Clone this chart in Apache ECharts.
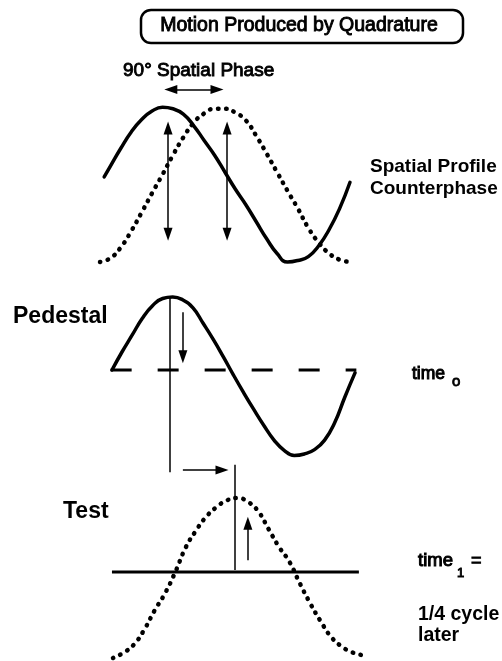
<!DOCTYPE html>
<html>
<head>
<meta charset="utf-8">
<script src="https://cdn.jsdelivr.net/npm/echarts@6/dist/echarts.min.js"></script>
<style>html,body{margin:0;padding:0;background:#fff}#c{width:502px;height:661px}</style>
</head>
<body>
<div id="c"></div>
<script>
// Phase positions (degrees) at which values were read
const phaseDeg = [0, 15, 30, 45, 60, 75, 90, 105, 120, 135, 150, 165, 180,
                  195, 210, 225, 240, 255, 270, 285, 300, 315, 330, 345, 360];
const spatialSolidPhase = [6, 15, 30, 45, 60, 75, 90, 105, 120, 135, 150, 165, 180,
                           195, 210, 225, 240, 255, 270, 285, 300, 315, 330, 345, 360];

// Top panel: spatial profile, counterphase (two gratings 90 deg apart)
const spatialSolid = [0.10, 0.24, 0.47, 0.68, 0.84, 0.95, 1.00, 0.98, 0.91, 0.76, 0.57, 0.38, 0.16,
                      -0.06, -0.26, -0.48, -0.70, -0.89, -1.00, -0.98, -0.93, -0.79, -0.58, -0.31, 0.03];
const spatialDotted = [-1.00, -0.95, -0.81, -0.60, -0.36, -0.11, 0.13, 0.38, 0.61, 0.80, 0.92, 0.98, 0.98,
                       0.93, 0.83, 0.63, 0.40, 0.16, -0.08, -0.31, -0.56, -0.75, -0.89, -0.97, -1.00];

// Middle panel: pedestal at time 0
const pedestal = [0.00, 0.25, 0.48, 0.71, 0.88, 0.98, 1.00, 0.96, 0.85, 0.64, 0.42, 0.18, -0.07,
                  -0.31, -0.54, -0.76, -0.96, -1.10, -1.17, -1.15, -1.09, -0.96, -0.72, -0.37, -0.04];
const pedestalBaseline = [[-2, 0], [362, 0]];

// Bottom panel: test at time 1 (1/4 cycle later)
const test = [-1.16, -1.09, -0.98, -0.78, -0.52, -0.29, 0.00, 0.33, 0.56, 0.75, 0.88, 0.97, 1.00,
              0.95, 0.82, 0.58, 0.34, 0.14, -0.15, -0.42, -0.66, -0.87, -1.00, -1.08, -1.12];
const testBaseline = [[-1.5, 0], [355.5, 0]];

// Annotation arrows (in each panel's data units)
const phaseArrow = [[102, 1.23], [168.5, 1.23]];
const spatialArrows = [
  [[98, 0.73], [98, -0.64]],
  [[183, 0.73], [183, -0.64]]
];
const pedestalGuide = [[86, 1.0], [86, -1.40]];
const pedestalArrow = [[105, 0.79], [105, 0.18]];
const shiftArrow = [[105, -1.37], [163, -1.37]];
const testGuide = [[176, 1.45], [176, 0.03]];
const testArrow = [[195, 0.16], [195, 0.66]];

const zip = (xs, ys) => xs.map((x, i) => [x, ys[i]]);
const BLACK = '#000';
const FONT = '"Liberation Sans", Arial, sans-serif';

const hiddenAxis = (idx, min, max) => ({
  type: 'value', gridIndex: idx, min: min, max: max,
  show: false, splitLine: {show: false}
});

function markLines(list, sym, size, width) {
  return {
    silent: true,
    animation: false,
    symbol: sym,
    symbolSize: size,
    label: {show: false},
    emphasis: {disabled: true},
    lineStyle: {color: BLACK, width: width, type: 'solid'},
    data: list.map(p => [{coord: p[0].slice()}, {coord: p[1].slice()}])
  };
}

const chart = echarts.init(document.getElementById('c'), null, {renderer: 'canvas'});

const txt = (text, x, y, font, align, strokeW) => ({
  type: 'text', silent: true,
  style: {
    text: text, x: x, y: y, font: font, fill: BLACK,
    stroke: strokeW ? BLACK : null, lineWidth: strokeW || 0,
    textAlign: align || 'left', textVerticalAlign: 'middle',
    align: align || 'left', verticalAlign: 'middle'
  }
});

chart.setOption({
  animation: false,
  backgroundColor: '#fff',
  grid: [
    {left: 100, width: 250, top: 84, height: 178},
    {left: 112, width: 243, top: 297, height: 182.5},
    {left: 113, width: 249, top: 461, height: 200}
  ],
  xAxis: [hiddenAxis(0, 0, 360), hiddenAxis(1, 0, 360), hiddenAxis(2, 0, 360)],
  yAxis: [hiddenAxis(0, -1, 1.3), hiddenAxis(1, -1.5, 1), hiddenAxis(2, -1.2, 1.5)],
  series: [
    {
      type: 'line', xAxisIndex: 0, yAxisIndex: 0, smooth: 0.5, symbol: 'none', clip: false,
      data: zip(spatialSolidPhase, spatialSolid),
      lineStyle: {color: BLACK, width: 3.5, cap: 'round', join: 'round'},
      markLine: markLines(spatialArrows.concat([phaseArrow]), ['triangle', 'triangle'], [9, 13], 1.5)
    },
    {
      type: 'line', xAxisIndex: 0, yAxisIndex: 0, smooth: 0.5, symbol: 'none', clip: false,
      data: zip(phaseDeg, spatialDotted),
      lineStyle: {color: BLACK, width: 4.5, cap: 'round', type: [0.5, 7.5]}
    },
    {
      type: 'line', xAxisIndex: 1, yAxisIndex: 1, smooth: 0.5, symbol: 'none', clip: false,
      data: zip(phaseDeg, pedestal),
      lineStyle: {color: BLACK, width: 3.5, cap: 'round', join: 'round'},
      markLine: markLines([pedestalArrow, shiftArrow], ['none', 'triangle'], [9, 13], 1.5)
    },
    {
      type: 'line', xAxisIndex: 1, yAxisIndex: 1, symbol: 'none', clip: false,
      data: pedestalBaseline,
      lineStyle: {color: BLACK, width: 3, type: [21, 26]},
      markLine: markLines([pedestalGuide], ['none', 'none'], 0, 1.5)
    },
    {
      type: 'line', xAxisIndex: 2, yAxisIndex: 2, smooth: 0.5, symbol: 'none', clip: false,
      data: zip(phaseDeg, test),
      lineStyle: {color: BLACK, width: 4.5, cap: 'round', type: [0.5, 7.5]},
      markLine: markLines([testArrow], ['none', 'triangle'], [9, 13], 1.5)
    },
    {
      type: 'line', xAxisIndex: 2, yAxisIndex: 2, symbol: 'none', clip: false,
      data: testBaseline,
      lineStyle: {color: BLACK, width: 3},
      markLine: markLines([testGuide], ['none', 'none'], 0, 1.5)
    }
  ],
  graphic: [
    {type: 'rect', silent: true, shape: {x: 141, y: 10, width: 322, height: 33, r: 10},
     style: {fill: '#fff', stroke: BLACK, lineWidth: 2.5}},
    txt('Motion Produced by Quadrature', 299, 26, '19.5px ' + FONT, 'center', 0.9),
    txt('90° Spatial Phase', 123, 70.5, '19px ' + FONT, 'left', 0.9),
    txt('Spatial Profile', 370, 166.5, 'bold 19px ' + FONT),
    txt('Counterphase', 370, 188.5, 'bold 19px ' + FONT),
    txt('Pedestal', 13, 316.5, 'bold 23px ' + FONT),
    txt('time', 412, 374, '17.5px ' + FONT, 'left', 1),
    txt('o', 452, 382, '15px ' + FONT, 'left', 0.9),
    txt('Test', 63, 511.5, 'bold 23px ' + FONT),
    txt('time', 418, 561, '18.5px ' + FONT, 'left', 1),
    txt('1', 457, 573.5, '13px ' + FONT, 'left', 0.9),
    txt('=', 471, 561.5, '18px ' + FONT, 'left', 0.9),
    txt('1/4 cycle', 418, 615, 'bold 19.5px ' + FONT),
    txt('later', 418, 636, 'bold 19.5px ' + FONT)
  ]
});
</script>
</body>
</html>
